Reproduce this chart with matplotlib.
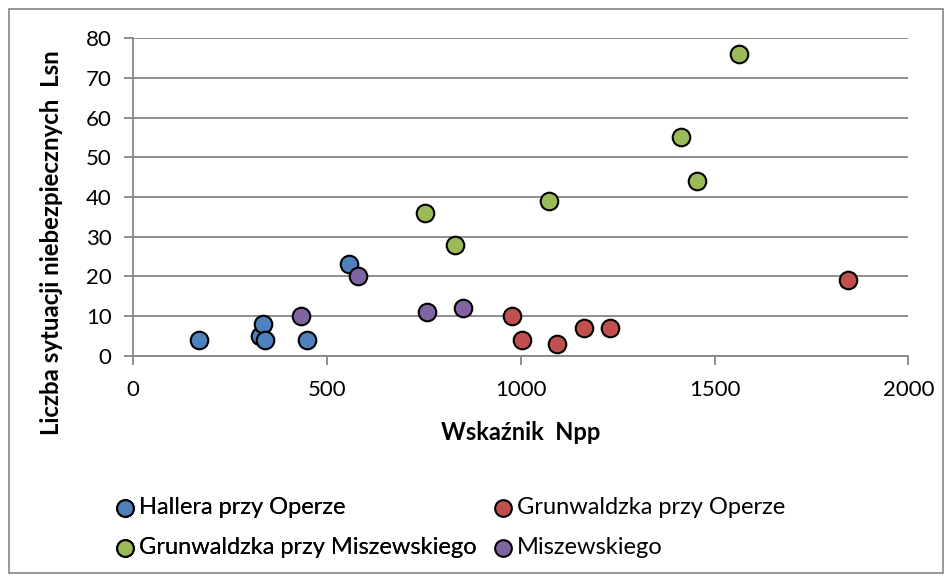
import matplotlib.pyplot as plt
from matplotlib.patches import Rectangle

# data
hallera_x = [169, 328, 334, 340, 450, 558]
hallera_y = [4, 5, 8, 4, 4, 23]
grun_oper_x = [978, 1003, 1094, 1163, 1229, 1843]
grun_oper_y = [10, 4, 3, 7, 7, 19]
grun_misz_x = [753, 831, 1073, 1413, 1455, 1564]
grun_misz_y = [36, 28, 39, 55, 44, 76]
misz_x = [434, 581, 759, 850]
misz_y = [10, 20, 11, 12]

series = [
    ("Hallera przy Operze", hallera_x, hallera_y, "#4f81bd"),
    ("Grunwaldzka przy Operze", grun_oper_x, grun_oper_y, "#c0504d"),
    ("Grunwaldzka przy Miszewskiego", grun_misz_x, grun_misz_y, "#9bbb59"),
    ("Miszewskiego", misz_x, misz_y, "#8064a2"),
]

plt.rcParams["font.family"] = ["Lato", "DejaVu Sans"]

fig = plt.figure(figsize=(9.52, 5.8), dpi=100)
ax = fig.add_axes([0.1397, 0.3867, 0.8146, 0.5473])

handles = []
for name, xs, ys, col in series:
    h = ax.scatter(xs, ys, s=160, c=col, edgecolors="black", linewidths=1.5,
                   zorder=3, label=name)
    handles.append(h)

ax.set_xlim(0, 2000)
ax.set_ylim(0, 80)
ax.set_xticks([0, 500, 1000, 1500, 2000])
ax.set_yticks(range(0, 81, 10))
ax.grid(axis="y", color="#868686", linewidth=1.3)
ax.set_axisbelow(True)
for s in ["top", "right"]:
    ax.spines[s].set_visible(False)
for s in ["left", "bottom"]:
    ax.spines[s].set_color("#868686")
    ax.spines[s].set_linewidth(1.3)
ax.tick_params(colors="#868686", labelcolor="black", labelsize=16, length=6.5, width=1.3)
ax.tick_params(axis="x", pad=11)
ax.tick_params(axis="y", pad=9)

# axis titles
fig.text(0.547, 1 - 433 / 580, "Wskaźnik  Npp", fontsize=17, fontweight="bold",
         ha="center", va="center")
fig.text(52 / 952, 1 - 243 / 580, "Liczba sytuacji niebezpiecznych  Lsn", fontsize=17.3,
         fontweight="bold", rotation=90, ha="center", va="center")

# outer chart border
fig.patches.append(Rectangle((9 / 952, 7 / 580), 934 / 952, 564 / 580, transform=fig.transFigure,
                             fill=False, edgecolor="#868686", linewidth=1.2))

# legend in two columns
legend_kw = dict(loc="center left", frameon=False, fontsize=17, borderpad=0,
                 borderaxespad=0, handlelength=0.8, handletextpad=0.2,
                 labelspacing=0.8, markerscale=0.95)
leg1 = fig.legend([handles[0], handles[2]], [series[0][0], series[2][0]],
                  bbox_to_anchor=(115.6 / 952, 1 - 527.5 / 580), **legend_kw)
fig.add_artist(leg1)
fig.legend([handles[1], handles[3]], [series[1][0], series[3][0]],
           bbox_to_anchor=(493.6 / 952, 1 - 527.5 / 580), **legend_kw)

fig.savefig("out.png", dpi=100)
